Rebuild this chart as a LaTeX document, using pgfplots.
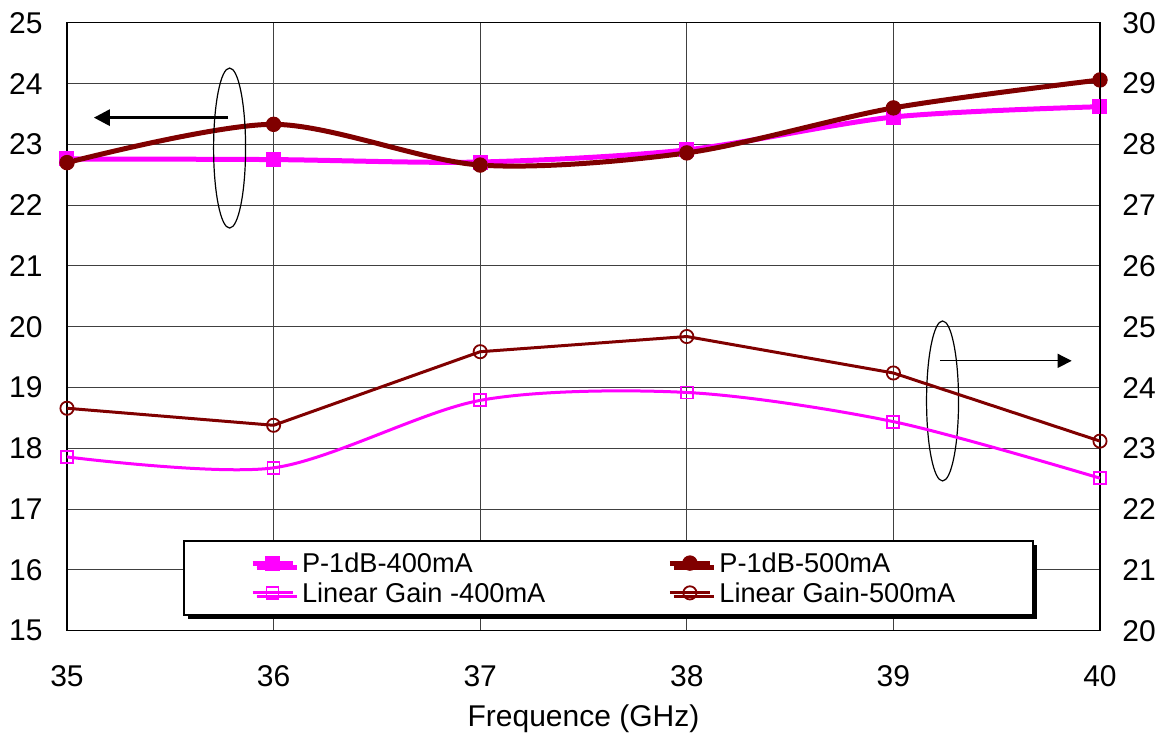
\documentclass[border=0pt]{standalone}
\usepackage{fontspec}
\setmainfont{Liberation Sans}
\usepackage{pgfplots}
\pgfplotsset{compat=1.18}
\usetikzlibrary{shadows,arrows.meta}
\definecolor{mag}{RGB}{255,0,255}
\definecolor{dred}{RGB}{128,0,0}

\begin{document}
\begin{tikzpicture}
\pgfplotsset{
  every axis/.append style={
    scale only axis, width=516.5pt, height=304pt,
    xmin=35, xmax=40, clip=false,
    major tick length=0pt,
    /pgf/number format/assume math mode=true,
    tick label style={font=\fontsize{15}{18}\selectfont, inner sep=0pt},
  },
  p400/.style={mag, line width=2.5pt, smooth, tension=0.5, mark=square*, mark size=3.5pt, mark options={solid, line width=0.5pt}},
  p500/.style={dred, line width=2.5pt, smooth, tension=0.5, mark=*, mark size=3.6pt, mark options={solid, line width=0.5pt}},
  lg400/.style={mag, line width=1.5pt, smooth, tension=0.5, mark=square, mark size=3pt, mark options={solid, line width=0.9pt, fill=none}},
  lg500/.style={dred, line width=1.5pt, mark=o, mark size=3.3pt, mark options={solid, line width=0.9pt, fill=none}},
}
\begin{axis}[
  ymin=15, ymax=25,
  xtick={35,36,...,40}, ytick={15,16,...,25},
  grid=major, grid style={black!75, line width=0.5pt},
  axis line style={black, line width=0.6pt},
  yticklabel style={xshift=-12pt},
  xticklabel style={yshift=-17pt},
  xlabel={Frequence (GHz)},
  xlabel style={at={(axis description cs:0.5,0)}, anchor=north, yshift=-37pt, inner sep=0pt, font=\fontsize{15}{18}\selectfont},
]
\addplot[p400] coordinates {(35,22.76) (36,22.75) (37,22.71) (38,22.91) (39,23.45) (40,23.62)};
\addplot[p500] coordinates {(35,22.70) (36,23.33) (37,22.66) (38,22.86) (39,23.60) (40,24.06)};
% annotations
\draw[line width=0.6pt] (axis cs:35.787,22.94) ellipse [x radius=8pt, y radius=40pt];
\draw[-{Triangle[length=8pt,width=8pt]}, line width=1.5pt] (axis cs:35.78,23.44) -- (axis cs:35.13,23.44);
\draw[line width=0.6pt] (axis cs:39.238,18.78) ellipse [x radius=8pt, y radius=40pt];
\draw[-{Triangle[length=7pt,width=7pt]}, line width=0.6pt] (axis cs:39.225,19.44) -- (axis cs:39.863,19.44);
\end{axis}
\begin{axis}[
  ymin=20, ymax=30,
  axis y line*=right, axis x line=none,
  ytick={20,21,...,30},
  yticklabel style={xshift=11pt},
  legend columns=2,
  legend cell align=left,
  legend image code/.code={
    \draw[#1, mark=none] (0pt,0pt) -- (20pt,0pt);
    \draw[#1] plot coordinates {(10pt,0pt)};
  },
  legend style={
    at={(0.1123,0.1492)}, anchor=north west,
    draw=black, line width=1pt, fill=white,
    drop shadow={shadow xshift=2pt, shadow yshift=-2pt, fill=black, opacity=1},
    font=\fontsize{13.6}{16}\selectfont,
    inner xsep=33pt, inner ysep=6.1pt,
    nodes={inner sep=0pt, text height=9.8pt, text depth=0pt},
    row sep=5.1pt,
    /tikz/every odd column/.append style={column sep=3.5pt},
    /tikz/every even column/.append style={column sep=61pt},
  },
]
\addlegendimage{p400}
\addlegendentry{P-1dB-400mA}
\addlegendimage{p500}
\addlegendentry{P-1dB-500mA}
\addplot[lg400] coordinates {(35,22.86) (36,22.68) (37,23.79) (38,23.92) (39,23.44) (40,22.51)};
\addlegendentry{Linear Gain -400mA}
\addplot[lg500] coordinates {(35,23.66) (36,23.38) (37,24.59) (38,24.84) (39,24.24) (40,23.12)};
\addlegendentry{Linear Gain-500mA\hspace*{6pt}}
\end{axis}
\pgfresetboundingbox
\path (-33.5pt,-53.5pt) rectangle (551pt,315.4pt);
\end{tikzpicture}
\end{document}
